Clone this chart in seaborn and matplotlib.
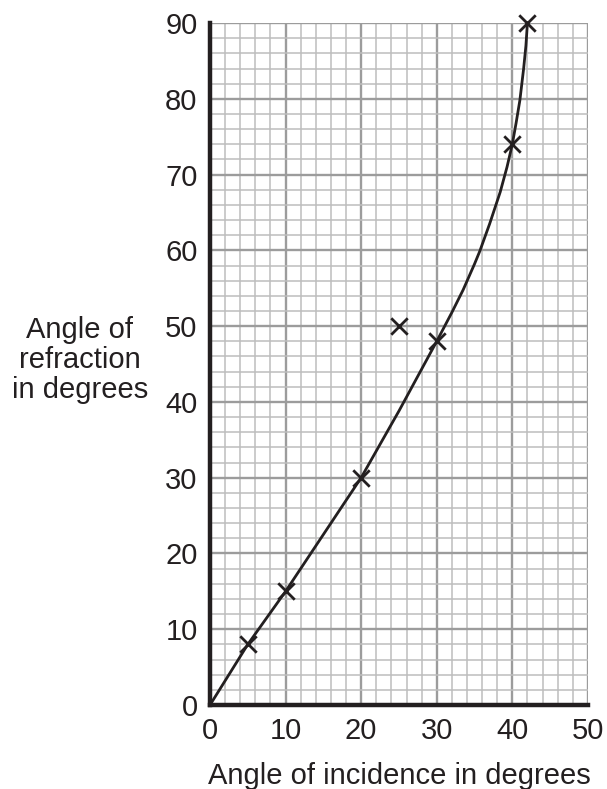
import matplotlib
matplotlib.use("Agg")
import matplotlib.pyplot as plt
import seaborn as sns
import numpy as np
from matplotlib.ticker import MultipleLocator

# Measured points (crosses)
incidence = [5, 10, 20, 25, 30, 40, 42]
refraction = [8, 15, 30, 50, 48, 74, 90]

# Best-fit curve
curve_x = [0, 5, 10, 15, 20, 25, 30, 32, 33.5, 35, 35.7, 37, 38.4, 39.3, 40, 40.5, 41, 41.5, 41.8, 42]
curve_y = [0, 8, 15, 22.5, 30, 38.8, 48, 51.8, 54.8, 58.2, 59.9, 63.5, 67.7, 71.0, 74, 76.8, 79.8, 84, 87, 90]

x_ticks = [0, 10, 20, 30, 40, 50]
y_ticks = [0, 10, 20, 30, 40, 50, 60, 70, 80, 90]

sns.set_style("white")
plt.rcParams['font.family'] = ['Liberation Sans', 'DejaVu Sans']

fig = plt.figure(figsize=(6.07, 7.89), dpi=100)
ax = fig.add_axes([0.346, 0.1065, 0.6225, 0.8643])

ink = "#231f20"

ax.set_xlim(0, 50)
ax.set_ylim(0, 90)
ax.xaxis.set_major_locator(MultipleLocator(10))
ax.yaxis.set_major_locator(MultipleLocator(10))
ax.xaxis.set_minor_locator(MultipleLocator(2))
ax.yaxis.set_minor_locator(MultipleLocator(2))
ax.grid(True, which="minor", color="#bdbdbd", linewidth=1.1, zorder=0)
ax.grid(True, which="major", color="#9c9c9c", linewidth=1.7, zorder=0)
ax.set_axisbelow(True)

sns.lineplot(x=curve_x, y=curve_y, sort=False, color=ink, linewidth=2.0, ax=ax, zorder=3)
sns.scatterplot(x=incidence, y=refraction, marker="x", s=140, color=ink,
                linewidth=2.0, ax=ax, zorder=4, clip_on=False)

for s in ["top", "right"]:
    ax.spines[s].set_visible(False)
for s in ["left", "bottom"]:
    ax.spines[s].set_linewidth(3.2)
    ax.spines[s].set_color(ink)
    ax.spines[s].set_zorder(5)

ax.set_xticks(x_ticks)
ax.set_yticks(y_ticks)
ax.tick_params(axis="both", which="major", direction="out", length=6, width=1.2,
               color=ink, labelsize=21, labelcolor=ink, pad=3)
ax.tick_params(axis="both", which="minor", length=0)

ax.set_xlabel("Angle of incidence in degrees", fontsize=21, color=ink, labelpad=12)
ax.set_ylabel("")
fig.text(80 / 607, 1 - 360 / 789, "Angle of\nrefraction\nin degrees", fontsize=21,
         color=ink, ha="center", va="center", linespacing=1.1)

fig.savefig("out.png", dpi=100)
